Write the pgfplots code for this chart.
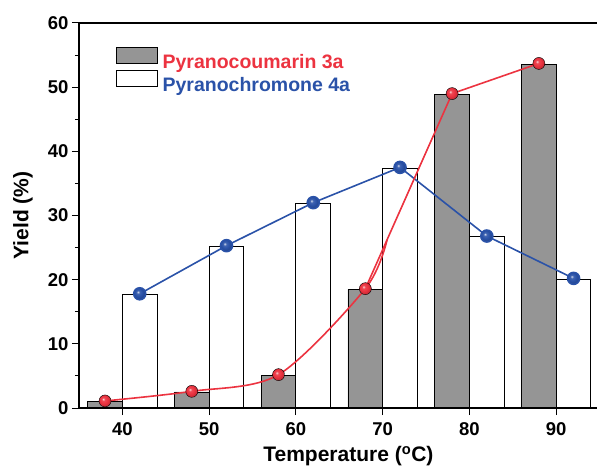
\documentclass[border=0pt]{standalone}
\usepackage{fontspec}
\setmainfont{Liberation Sans}
\usepackage{pgfplots}
\pgfplotsset{compat=1.18}
\definecolor{pred}{HTML}{EC3340}
\definecolor{pblue}{HTML}{2A52A8}
\definecolor{pgray}{HTML}{959595}
\makeatletter
\pgfdeclareradialshading[tikz@ball]{ball}{\pgfqpoint{-8bp}{8bp}}{%
  color(0bp)=(tikz@ball!20!white); color(7bp)=(tikz@ball!90!white);
  color(16bp)=(tikz@ball); color(25bp)=(tikz@ball!85!black); color(50bp)=(tikz@ball!70!black)}
\makeatother

\begin{document}
\begin{tikzpicture}
\path[use as bounding box] (-79pt,-58pt) rectangle (518pt,408pt);
\begin{axis}[
  scale only axis,
  width=518pt, height=385pt,
  xmin=35, xmax=94.7,
  ymin=0, ymax=60,
  axis on top,
  axis x line=box, axis y line=left,
  axis line style={-, line width=1.2pt},
  xtick={40,50,60,70,80,90},
  ytick={0,10,...,60},
  minor y tick num=1,
  xtick pos=bottom, ytick pos=left,
  tick align=outside,
  major tick length=7pt, minor tick length=4pt,
  tick style={line width=1pt, black},
  ticklabel style={font=\fontsize{18.5}{20}\selectfont\bfseries},
  xticklabel style={yshift=-4pt},
  /pgf/number format/assume math mode=true,
  xlabel={Temperature (\textsuperscript{o}C)},
  ylabel={Yield (\%)},
  label style={font=\fontsize{21}{24}\selectfont\bfseries},
  xlabel style={at={(axis description cs:0.52,-0.125)}, anchor=center},
  ylabel style={at={(axis description cs:-0.108,0.5)}, anchor=center},
  legend style={at={(axis description cs:0.0714,0.939)}, anchor=north west,
    draw=none, fill=none, inner sep=0pt, row sep=-2pt,
    font=\fontsize{19.5}{22}\selectfont\bfseries,
    nodes={inner xsep=4.5pt}},
  legend cell align=left,
]
\addplot[ybar, bar width=4, bar shift=0pt, fill=pgray, draw=black, line width=0.9pt,
  legend image code/.code={\draw[fill=pgray, draw=black, line width=0.9pt] (0pt,-1pt) rectangle (41pt,15pt);}]
  coordinates {(38,1.0) (48,2.5) (58,5.1) (68,18.5) (78,48.9) (88,53.6)};
\addlegendentry{\textcolor{pred}{Pyranocoumarin 3a}}
\addplot[ybar, bar width=4, bar shift=0pt, fill=white, draw=black, line width=0.9pt,
  legend image code/.code={\draw[fill=white, draw=black, line width=0.9pt] (0pt,-1pt) rectangle (41pt,15pt);}]
  coordinates {(42,17.7) (52,25.2) (62,31.8) (72,37.4) (82,26.7) (92,20.1)};
\addlegendentry{\textcolor{pblue}{Pyranochromone 4a}}
\addplot[forget plot, pblue, line width=1.6pt, mark=ball, mark size=6pt, mark options={ball color=pblue}]
  coordinates {(42,17.8) (52,25.3) (62,32.0) (72,37.5) (82,26.8) (92,20.2)};
% red curve: smooth in the lower part, straight above 68
\addplot[forget plot, pred, line width=1.6pt, smooth, tension=0.5]
  coordinates {(38,1.1) (48,2.6) (58,5.2) (68,18.6) (70.5,26.2)};
\addplot[forget plot, pred, line width=1.6pt]
  coordinates {(68,18.6) (70.5,26.2) (78,49.0) (88,53.7)};
\addplot[forget plot, only marks, mark=ball, mark size=6pt, mark options={ball color=pred}]
  coordinates {(38,1.1) (48,2.6) (58,5.2) (68,18.6) (78,49.0) (88,53.7)};
\end{axis}
\end{tikzpicture}
\end{document}
